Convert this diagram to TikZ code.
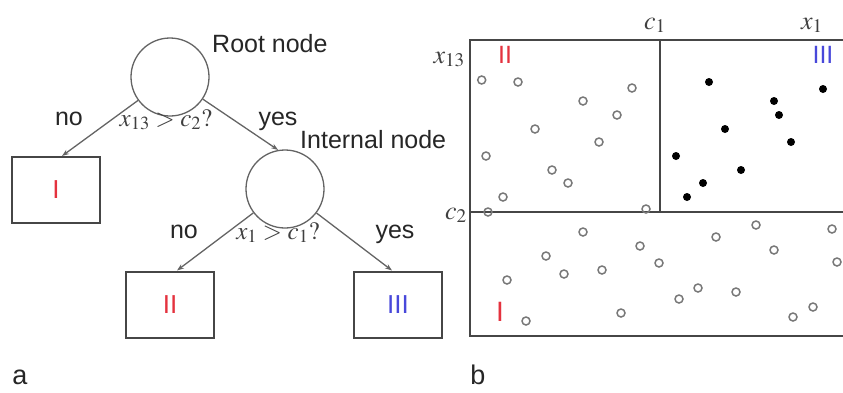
\documentclass[tikz,border=0pt]{standalone}
\usepackage{mathptmx}
\usepackage[no-math]{fontspec}
\setmainfont{Liberation Sans}
\usetikzlibrary{arrows.meta,calc}
\definecolor{rred}{RGB}{228,50,62}
\definecolor{bblue}{RGB}{72,72,218}
\definecolor{lgray}{RGB}{100,100,100}
\definecolor{dgray}{RGB}{70,70,70}
\definecolor{ogray}{RGB}{120,120,120}
\begin{document}
\begin{tikzpicture}[x=1pt,y=-1pt,
 treenode/.style={circle,draw=lgray,line width=1.3pt,minimum size=78pt,inner sep=0pt},
 leaf/.style={draw=dgray,line width=2pt,minimum width=88pt,minimum height=66pt,inner sep=0pt,font=\fontsize{26}{30}\selectfont},
 edge/.style={draw=lgray,line width=1.3pt,-{Stealth[length=7pt,width=5pt]}},
 lbl/.style={font=\fontsize{25}{30}\selectfont,inner sep=0pt,anchor=base,text=black!85},
 mlbl/.style={font=\fontsize{25}{28}\selectfont,inner sep=0pt,anchor=base,text=black!75},
 open/.style={circle,draw=ogray,line width=1.5pt,minimum size=8pt,inner sep=0pt},
 full/.style={circle,fill=black,minimum size=8pt,inner sep=0pt}]
\useasboundingbox (0,0) rectangle (843,392);
\clip (0,0) rectangle (843,392);
% ---- tree (a)
\node[treenode] (root) at (170,77) {};
\node[treenode] (int) at (285,189) {};
\node[leaf] (bI) at (56,190) {\textcolor{rred}{I}};
\node[leaf] (bII) at (170,304.5) {\textcolor{rred}{II}};
\node[leaf] (bIII) at (398,304.5) {\textcolor{bblue}{III}};
\node[lbl,anchor=base west] (troot) at (212,52) {Root node};
\node[lbl,anchor=base west] (tint) at (300,148) {Internal node};
\draw[edge] (root) -- ([xshift=6pt]bI.north);
\draw[edge] (root) -- (int.100);
\draw[edge] (int) -- ([xshift=7pt]bII.north);
\draw[edge] (int) -- ([xshift=-6pt]bIII.north);
\node[lbl] (no1) at (69,125) {no};
\node[lbl] (yes1) at (278,125) {yes};
\node[mlbl] (q1) at (166,126) {$x_{13} > c_2?$};
\node[lbl] (no2) at (184,238) {no};
\node[lbl] (yes2) at (395,238) {yes};
\node[mlbl] (q2) at (278,239) {$x_1 > c_1?$};
\node[lbl,font=\fontsize{27}{30}\selectfont] (la) at (20,384) {a};
% ---- partition (b)
\draw[dgray,line width=2.2pt] (850,40) -- (470,40) -- (470,336) -- (850,336);
\draw[dgray,line width=2.2pt] (470,212) -- (850,212);
\draw[dgray,line width=2.2pt] (660,40) -- (660,212);
\node[mlbl,anchor=base east,font=\fontsize{26}{28}\selectfont] (lx13) at (465,63) {$x_{13}$};
\node[mlbl,font=\fontsize{26}{28}\selectfont] (lc1) at (655,29) {$c_1$};
\node[mlbl,font=\fontsize{26}{28}\selectfont] (lx1) at (812,29) {$x_1$};
\node[mlbl,anchor=base east,font=\fontsize{26}{28}\selectfont] (lc2) at (467,219) {$c_2$};
\node[lbl,font=\fontsize{25}{30}\selectfont] (rII) at (505,63) {\textcolor{rred}{II}};
\node[lbl,font=\fontsize{25}{30}\selectfont] (rIII) at (823,63) {\textcolor{bblue}{III}};
\node[lbl,font=\fontsize{28}{30}\selectfont] (rI) at (500,321) {\textcolor{rred}{I}};
\node[lbl,font=\fontsize{27}{30}\selectfont] (lb) at (478,384) {b};
\foreach \p [count=\i] in {(481.7,80),(518,82),(583,101),(632,88),(617,115),(535,129),(599,142),(486,156),(552,170),(568,183),(503,197),(488,212),(646,209),
 (583,232),(756,225),(832,229),(716,237),(640,246),(774,250),(546,256),(659,263),(837,262),(602,270),(564,274),(507,280),(698,288),(736,292),(679,299),(813,307),(793,317),(621,313),(526,321)}
  \node[open] (o\i) at \p {};
\foreach \p [count=\i] in {(709,82),(823,89),(774,101),(779,115),(725,129),(791,142),(676,156),(741,170),(703,183),(687,197)}
  \node[full] (f\i) at \p {};
\end{tikzpicture}
\end{document}
